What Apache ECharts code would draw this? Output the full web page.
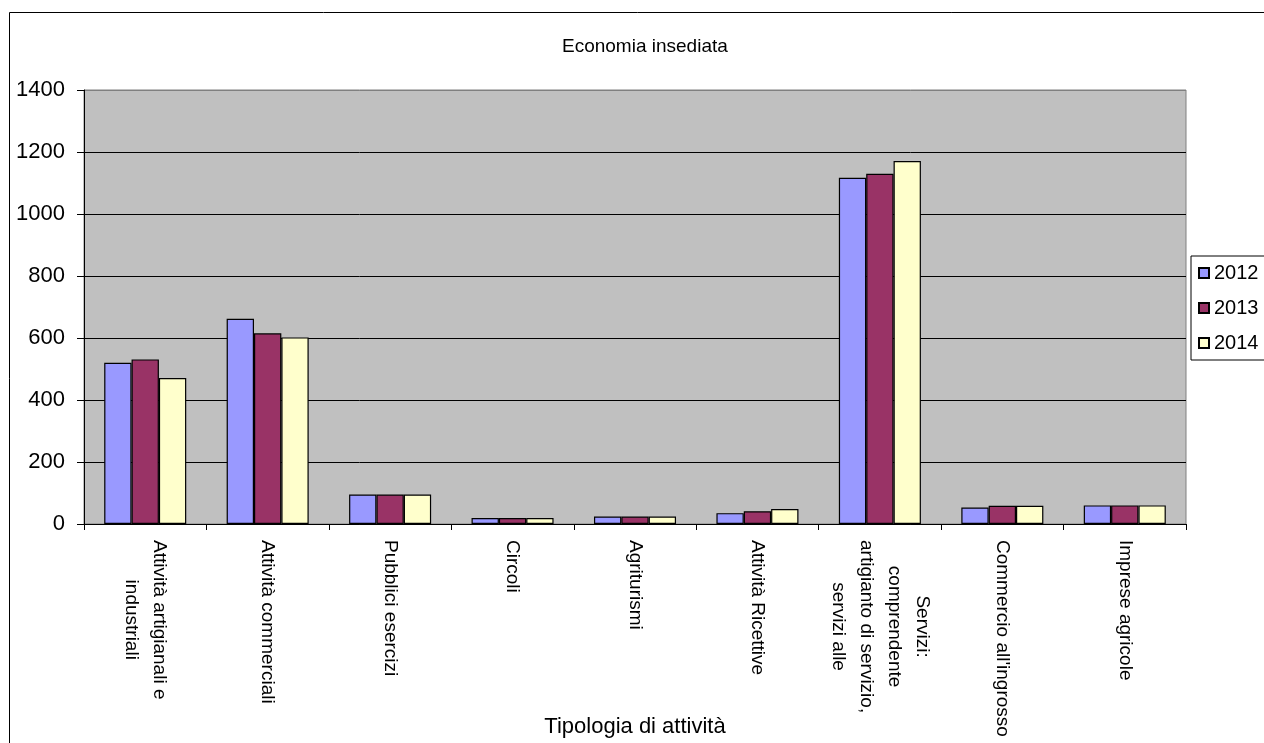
<!DOCTYPE html>
<html>
<head>
<meta charset="utf-8">
<script src="https://cdn.jsdelivr.net/npm/echarts@6/dist/echarts.min.js"></script>
<style>
html,body{margin:0;padding:0;background:#fff;}
#chart{width:1264px;height:743px;}
</style>
</head>
<body>
<div id="chart"></div>
<script>
const categories = [
  "Attività artigianali e\nindustriali",
  "Attività commerciali",
  "Pubblici esercizi",
  "Circoli",
  "Agriturismi",
  "Attività Ricettive",
  "Servizi:\ncomprendente\nartigianto di servizio,\nservizi alle",
  "Commercio all'ingrosso",
  "Imprese agricole"
];
const seriesNames = ["2012", "2013", "2014"];
const values2012 = [520, 662, 95, 19, 24, 35, 1117, 53, 60];
const values2013 = [531, 615, 95, 19, 24, 41, 1130, 59, 60];
const values2014 = [471, 602, 95, 19, 24, 48, 1171, 59, 60];
const yTicks = [0, 200, 400, 600, 800, 1000, 1200, 1400];

const colors = ["#9999FF", "#993366", "#FFFFCC"];
const FONT = "Liberation Sans, Arial, sans-serif";
const seriesValues = [values2012, values2013, values2014];

const chart = echarts.init(document.getElementById('chart'));
chart.setOption({
  animation: false,
  title: {
    text: "Economia insediata",
    left: 557,
    top: 32,
    textStyle: {fontFamily: FONT, fontSize: 19, fontWeight: 'normal', color: '#000'}
  },
  legend: {
    orient: 'vertical',
    left: 1191,
    top: 256,
    padding: [7, 40, 7, 7],
    itemGap: 15,
    itemWidth: 10,
    itemHeight: 10,
    borderColor: '#000',
    borderWidth: 1,
    icon: 'rect',
    textStyle: {fontFamily: FONT, fontSize: 20, color: '#000'},
    data: seriesNames
  },
  graphic: [{
    type: 'rect',
    shape: {x: 9.5, y: 12.5, width: 1400, height: 900},
    style: {fill: 'none', stroke: '#000', lineWidth: 1},
    silent: true,
    z: -1
  }],
  grid: {
    left: 84, right: 78, top: 90, bottom: 219,
    containLabel: false,
    outerBoundsMode: 'none',
    show: true,
    backgroundColor: '#C0C0C0',
    borderColor: '#808080',
    borderWidth: 1
  },
  xAxis: {
    type: 'category',
    data: categories,
    name: "Tipologia di attività",
    nameLocation: 'middle',
    nameGap: 192,
    nameMoveOverlap: false,
    nameTextStyle: {fontFamily: FONT, fontSize: 22, color: '#000'},
    axisLine: {lineStyle: {color: '#000', width: 1}},
    axisTick: {show: true, length: 6, lineStyle: {color: '#000'}},
    axisLabel: {
      interval: 0,
      rotate: -90,
      margin: 16,
      color: '#000',
      fontFamily: FONT,
      fontSize: 19,
      lineHeight: 28,
      formatter: function (v) {
        return v.split('\n').map(function (l) { return '{c|' + l + '}'; }).join('\n');
      },
      rich: {
        c: {align: 'center', fontFamily: FONT, fontSize: 19, lineHeight: 28, color: '#000'}
      }
    }
  },
  yAxis: {
    type: 'value',
    min: 0,
    max: 1400,
    interval: 200,
    axisLine: {show: true, lineStyle: {color: '#000', width: 1}},
    axisTick: {show: true, length: 7, lineStyle: {color: '#000'}},
    axisLabel: {
      margin: 19,
      color: '#000',
      fontFamily: FONT,
      fontSize: 22,
      formatter: function (v) { return yTicks.indexOf(v) >= 0 ? String(v) : ''; }
    },
    splitLine: {
      show: true,
      lineStyle: {color: ['#000', '#000', '#000', '#000', '#000', '#000', '#000', '#808080'], width: 1}
    }
  },
  series: seriesNames.map(function (name, i) {
    return {
      name: name,
      type: 'bar',
      data: seriesValues[i],
      barGap: '0%',
      barCategoryGap: '33%',
      itemStyle: {color: colors[i], borderColor: '#000', borderWidth: 1.2}
    };
  })
});
</script>
</body>
</html>
